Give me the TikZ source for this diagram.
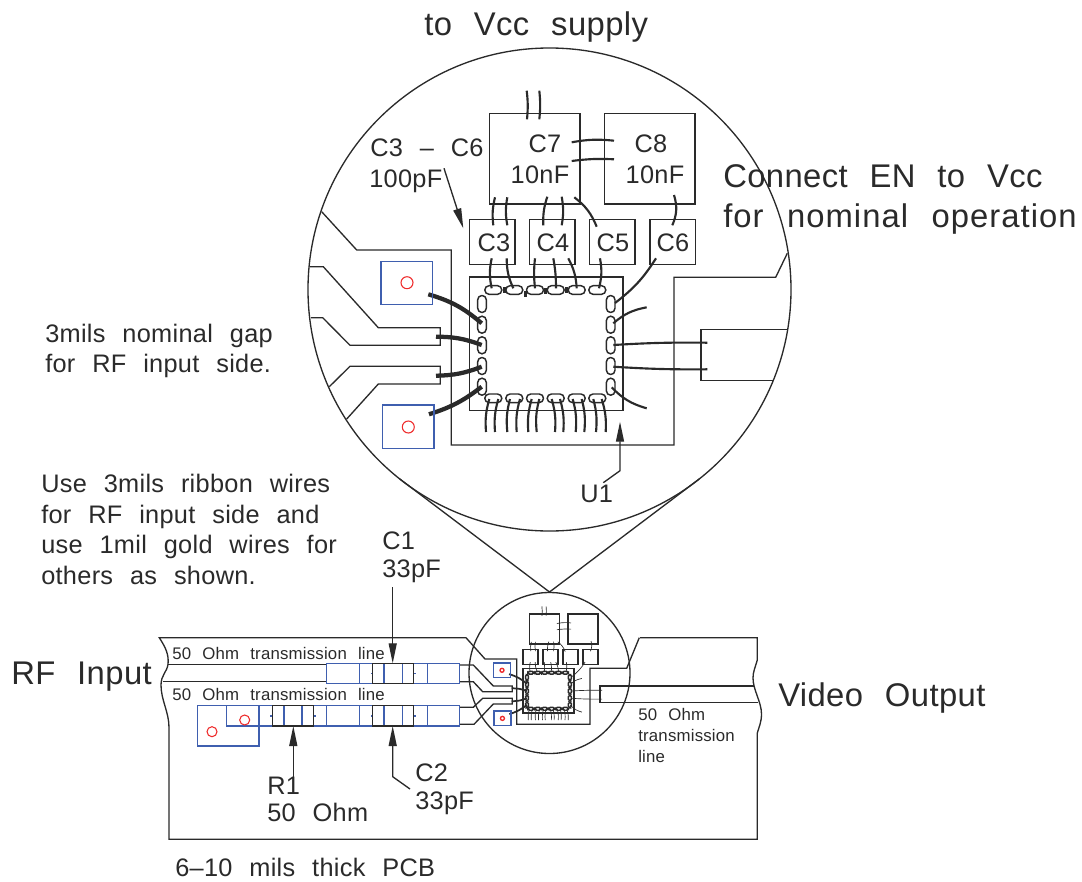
\documentclass[tikz,border=0pt]{standalone}
\usepackage{fontspec}
\setmainfont[LetterSpace=1.2,WordSpace=2.3]{Liberation Sans}
\usetikzlibrary{calc,positioning,arrows,arrows.meta}
\definecolor{partblue}{HTML}{3F5FAF}
\definecolor{holered}{HTML}{EE2A2A}
\definecolor{inkdark}{HTML}{2A2A2A}
\tikzset{
>=stealth',
  trace/.style={draw=inkdark, line width=1pt},
  bluepart/.style={draw=partblue, line width=1.1pt},
  blackpart/.style={draw=inkdark, line width=1.1pt},
  hole/.style={draw=holered, line width=.8pt},
  ribbon/.style={draw=inkdark, line width=3.2pt},
  goldwire/.style={draw=inkdark, line width=1.6pt},
  padoval/.style={draw=inkdark, line width=1.1pt, rounded corners=3.2pt},
  pointer/.style={draw=inkdark, line width=1pt, -{Stealth[length=15pt,width=6pt,inset=0pt]}},
  biglabel/.style={anchor=base west, inner sep=0pt, text=inkdark, font=\fontsize{24.6}{28}\selectfont},
  midlabel/.style={anchor=base west, inner sep=0pt, text=inkdark, font=\fontsize{19}{22}\selectfont},
  smalllabel/.style={anchor=base west, inner sep=0pt, text=inkdark, font=\fontsize{12.6}{16}\selectfont},
  caplabel/.style={anchor=base, inner sep=0pt, text=inkdark, font=\fontsize{19}{22}\selectfont},
}
% capacitors, die, bond pads and wires, without any text
\newcommand{\chipsite}{
  \draw[trace] (489.7,113.7) rectangle (580,204);
  \draw[trace] (604.7,113.7) rectangle (695,204);
  \foreach \capx in {469.7,529.7,589.7,650}
    \draw[trace] (\capx,219.7) rectangle +(45.3,45);
  \draw[trace] (469.7,277) rectangle (623,410.7);
  %% bond pads
  \foreach \padx in {493.3,514.3,535,555.7,576.7,597.3} {
    \draw[padoval] (\padx-8.5,285.7) rectangle +(17,8.6);
    \draw[padoval] (\padx-8.5,394) rectangle +(17,8.6);
  }
  \foreach \pady in {304,324.7,345.3,366,386.7} {
    \draw[padoval] (477.7,\pady-8.5) rectangle +(8.6,17);
    \draw[padoval] (606.4,\pady-8.5) rectangle +(8.6,17);
  }
  \foreach \markx/\marky in {504/290,525/294.3,545.7/291,566.7/290}
    \fill[inkdark] (\markx-1.5,\marky-3) rectangle +(3,6);
  %% ribbon wires
  \draw[ribbon] (428.3,294.3) to[bend left=12] (481.7,323.3);
  \draw[ribbon] (436,336.7) to[bend left=10] (481.7,345);
  \draw[ribbon] (436,375.7) to[bend right=10] (481.7,366.7);
  \draw[ribbon] (429,414.3) to[bend right=10] (481.7,386.7);
  %% gold wires, right side
  \draw[goldwire] (615,303) to[bend right=10] (656,258.3);
  \draw[goldwire] (613.3,323.3) to[bend left=15] (646.7,307.3);
  \draw[goldwire] (613.3,345) to[bend left=2] (707.3,342.7);
  \draw[goldwire] (613.3,366.7) to[bend right=2] (707.3,369.3);
  \draw[goldwire] (611.7,387.3) to[bend right=15] (646.7,408.3);
  %% gold wires, bottom side
  \foreach \xa/\xb in {489.3/486,498.3/495,510/507.3,520/516.7,531.7/528.3,539.3/536.7}
    \draw[goldwire] (\xa,399) to[bend right=10] (\xb,432);
  \foreach \xa/\xb in {551.7/555,560/563.3,572.7/575.7,581.7/584.3,593.3/596,601.7/605.7}
    \draw[goldwire] (\xa,399) to[bend left=10] (\xb,432);
  %% gold wires, top side
  \draw[goldwire] (526.7,90.7) to[bend left=6] (527,119.3);
  \draw[goldwire] (539.3,90.7) to[bend left=6] (539.3,119.3);
  \draw[goldwire] (571.7,142.3) to[bend left=8] (614,140.7);
  \draw[goldwire] (571.7,161) to[bend left=5] (614,159.3);
  \draw[goldwire] (495,197.3) to[bend right=10] (493.3,225.3);
  \draw[goldwire] (507.3,197.3) to[bend right=10] (507.3,225.3);
  \draw[goldwire] (547.3,196.7) to[bend right=10] (543.3,225.3);
  \draw[goldwire] (561.7,196.7) to[bend left=10] (561.7,225.3);
  \draw[goldwire] (574.3,197.3) to[bend left=15] (596.7,226.7);
  \draw[goldwire] (674,195) to[bend left=20] (672.3,225.3);
  \draw[goldwire] (491.7,258.3) to[bend right=12] (491.7,288.3);
  \draw[goldwire] (506.7,258.3) to[bend right=12] (513.3,288.3);
  \draw[goldwire] (535,258.3) to[bend right=6] (535,288.3);
  \draw[goldwire] (553.3,258.3) to[bend left=5] (556,288.3);
  \draw[goldwire] (568.3,258.3) to[bend left=12] (576.7,288.3);
  \draw[goldwire] (600,258.3) to[bend left=12] (599,288.3);
  %% pads beside the die
  \draw[bluepart] (381,261.3) rectangle (432.7,304.3);
  \draw[bluepart] (382.3,405) rectangle (434,448.7);
  \draw[hole] (407,282.7) circle (6);
  \draw[hole] (408.3,427) circle (6);
}

\begin{document}
\begin{tikzpicture}[x=.75pt,y=-.75pt]
  \useasboundingbox (0,0) rectangle (1082,882);
  % the enlarged view
  \draw[trace] (549.5,289.5) circle (241.5);
  \coordinate (viewA) at (399.8,479);
  \coordinate (viewB) at (699.2,479);
  \coordinate (viewTip) at (549.5,592);
  \draw[trace] (viewA) -- (viewTip) -- (viewB);
  \chipsite
  \draw[trace] (321.7,211.7) -- (356.7,250) -- (451.3,250) -- (451.3,445) -- (674,445)
    -- (674,277.3) -- (775.7,277.3) -- (787.3,253.3);
  \draw[trace] (310,266.7) -- (323.3,266.7) -- (378.3,327.7) -- (440.3,327.7) -- (440.3,345.3)
    -- (350,345.3) -- (322.7,317.7) -- (311,317.7);
  \draw[trace] (329.3,386.7) -- (350,366.3) -- (440.3,366.3) -- (440.3,384)
    -- (378.3,384) -- (346.7,419);
  \draw[trace] (786.7,329.7) -- (701,329.7) -- (701,380.7) -- (773.3,380.7);
  % the board
  \draw[trace] (640,637.7) -- (757.3,637.7) -- (757.3,660)
    .. controls (755,668) and (753,672) .. (753,678)
    .. controls (753,690) and (761.5,702) .. (761.5,714)
    .. controls (761.5,722) and (759,727) .. (757.3,733) -- (757.3,839.3) -- (169,839.3)
    -- (169,727.5) .. controls (169,712) and (161,700) .. (161,685)
    .. controls (161,675) and (167,672) .. (168,664.3)
    .. controls (169,655) and (166,648) .. (159.3,637.7) -- (466,637.7)
    -- (485,659) -- (516.7,659) -- (516.7,724.3) -- (590,724.3) -- (590,668.3)
    -- (626.7,668.3) -- (639.3,637.7);
  \draw[trace] (168,664.3) -- (326.7,664.3);
  \draw[trace] (162.7,681.7) -- (326.7,681.7);
  \draw[trace] (459.7,665) -- (473.3,665) -- (493.3,686) -- (512.3,686) -- (512.3,691.7)
    -- (482.7,691.7) -- (473.3,681.7) -- (459.7,681.7);
  \draw[trace] (459.7,707.3) -- (473.3,707.3) -- (482.7,698.3) -- (512.3,698.3) -- (512.3,704)
    -- (493.3,704) -- (474,724.3) -- (459.7,724.3);
  \draw[trace] (754.3,686) -- (600,686) -- (600,702.7) -- (758,702.7);
  \draw[trace] (549.5,673) circle (80.5);
  %% parts on the lines
  \draw[bluepart] (326.7,663.3) rectangle (459.7,683.3);
  \draw[bluepart] (226.7,705.7) rectangle (459.7,726);
  \draw[bluepart] (197.7,705.7) rectangle (259,746);
  \foreach \segx in {359.3,372.7,384,402.3,413.3,427.3}
    \draw[bluepart] (\segx,663.3) -- (\segx,683.3);
  \foreach \segx in {284,302,326.7,359.3,384,402.3,427.3}
    \draw[bluepart] (\segx,705.7) -- (\segx,726);
  \foreach \dotx/\doty in {371.7/673.3,415/673.3,271/716,315/716,371.7/716,415/716}
    \fill[partblue] (\dotx-.8,\doty-.8) rectangle +(1.6,1.6);
  \draw[blackpart] (372.7,663.3) rectangle (413.3,683.3);
  \draw[blackpart] (272.7,705.7) rectangle (313.3,726);
  \draw[blackpart] (372.7,705.7) rectangle (413.3,726);
  \draw[hole] (244.7,720) circle (5);
  \draw[hole] (212,731.7) circle (5);
  %% the small copy
  \begin{scope}[shift={(549.5,672.7)},scale=1/3,shift={(-549.5,-290)},
      ribbon/.style={draw=inkdark, line width=1.3pt},
      goldwire/.style={draw=inkdark, line width=.5pt},
      padoval/.style={draw=inkdark, line width=1.1pt, rounded corners=1.1pt},
      hole/.style={draw=holered, line width=1pt}]
    \chipsite
  \end{scope}
  % labels
  \node[biglabel] (supply) at (424,35) {to Vcc supply};
  \node[midlabel] (rangelabel) at (370,156) {C3 – C6};
  \node[midlabel] (rangeval) at (369,187) {100pF};
  \node[caplabel] (cseven) at (545,152) {C7};
  \node[caplabel] (csevenval) at (540,183) {10nF};
  \node[caplabel] (ceight) at (651,152) {C8};
  \node[caplabel] (ceightval) at (655,183) {10nF};
  \node[caplabel] (cthree) at (494,251) {C3};
  \node[caplabel] (cfour) at (553,251) {C4};
  \node[caplabel] (cfive) at (613,251) {C5};
  \node[caplabel] (csix) at (673,251) {C6};
  \node[biglabel] (enone) at (723,187) {Connect EN to Vcc};
  \node[biglabel] (entwo) at (723,227) {\addfontfeature{LetterSpace=3.2}for nominal operation};
  \node[midlabel] (gapone) at (45,342) {3mils nominal gap};
  \node[midlabel] (gaptwo) at (45,372) {for RF input side.};
  \node[midlabel] (useone) at (41,492) {Use 3mils ribbon wires};
  \node[midlabel] (usetwo) at (41,523) {for RF input side and};
  \node[midlabel] (usethree) at (41,553) {use 1mil gold wires for};
  \node[midlabel] (usefour) at (41,584) {others as shown.};
  \node[midlabel] (uone) at (580,502) {U1};
  \node[midlabel] (cone) at (382,549) {C1};
  \node[midlabel] (coneval) at (382,577) {33pF};
  \node[biglabel] (rfin) at (11,684) {RF Input};
  \node[biglabel] (video) at (778,706) {Video Output};
  \node[smalllabel] (lineone) at (172,659) {50 Ohm transmission line};
  \node[smalllabel] (linetwo) at (172,700) {50 Ohm transmission line};
  \node[smalllabel] (linethree) at (638,720) {50 Ohm};
  \node[smalllabel] (linefour) at (638,741) {transmission};
  \node[smalllabel] (linefive) at (638,762) {line};
  \node[midlabel] (rone) at (267,794) {R1};
  \node[midlabel] (roneval) at (267,821) {50 Ohm};
  \node[midlabel] (ctwo) at (415,781) {C2};
  \node[midlabel] (ctwoval) at (415,809) {33pF};
  \node[midlabel] (pcb) at (175,876) {6–10 mils thick PCB};
  % pointers
  \draw[pointer] (444,168.3) -- (463.3,228.3);
  \draw[pointer] (603.3,482.7) -- (620,470.7) -- (620,421.7);
  \draw[pointer] (392.7,587) -- (392.7,663.3);
  \draw[pointer] (293.3,776.7) -- (293.3,726);
  \draw[pointer] (410,789) -- (392.7,776.7) -- (392.7,726);
\end{tikzpicture}
\end{document}
